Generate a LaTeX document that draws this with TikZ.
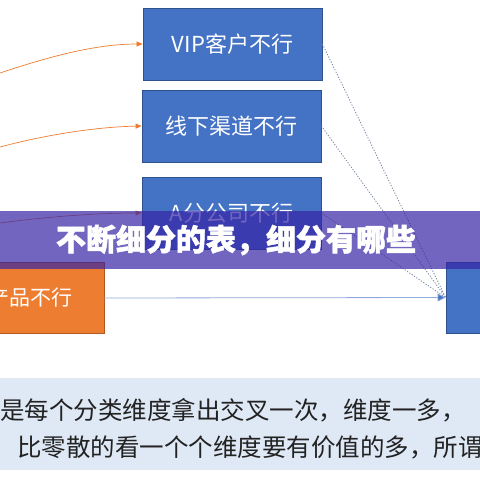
\documentclass[tikz,border=0pt]{standalone}
\usepackage{fontspec}
\newfontfamily\cjk{Noto Sans CJK SC}
\newfontfamily\cjktitle{Noto Sans CJK SC}[BoldFeatures={FakeBold=1.6}]
\usetikzlibrary{arrows.meta}
\definecolor{boxblue}{HTML}{4472C4}
\definecolor{boxedge}{HTML}{2F528F}
\definecolor{orangefill}{HTML}{ED7D31}
\definecolor{orangeedge}{HTML}{AE5A21}
\definecolor{linkblue}{HTML}{8FAADC}
\definecolor{dotgray}{HTML}{7585A0}
\definecolor{bannerc}{RGB}{54,36,165}
\definecolor{panel}{HTML}{DFE9F5}
\definecolor{bodytext}{HTML}{222222}
\tikzset{
  bluebox/.style={draw=boxedge, fill=boxblue, line width=0.8pt, text=white,
    font=\cjk\fontsize{22}{26}\selectfont, inner sep=0pt},
  orangebox/.style={draw=orangeedge, fill=orangefill, line width=0.8pt, text=white,
    font=\cjk\fontsize{21}{25}\selectfont, inner sep=0pt},
  feed/.style={draw=orangefill, line width=0.7pt, -{Triangle[length=6pt,width=5pt]}},
  link/.style={draw=linkblue, line width=0.8pt},
  dots/.style={draw=dotgray, line width=0.8pt, dash pattern=on 1.2pt off 1.6pt},
  bodyline/.style={anchor=west, inner sep=0pt, text=bodytext,
    font=\cjk\fontsize{24.5}{28}\selectfont}
}
\begin{document}
\begin{tikzpicture}[x=1pt,y=-1pt]
\useasboundingbox (0,0) rectangle (480,480);
\begin{scope}
\clip (0,0) rectangle (480,480);
\fill[white] (0,0) rectangle (480,480);
% boxes
\node[bluebox, minimum width=179pt, minimum height=72pt] (vip) at (232.5,44) {VIP客户不行};
\node[bluebox, minimum width=179pt, minimum height=72pt] (offline) at (231.5,126) {线下渠道不行};
\node[bluebox, minimum width=179pt, minimum height=72pt] (branch) at (231.5,213) {A分公司不行};
\node[orangebox, minimum width=147pt, minimum height=71pt] (prod) at (30.5,298) {产品不行};
\node[bluebox, minimum width=100pt, minimum height=71pt] (res) at (496,297.5) {};
% feed curves from off-picture source
\coordinate (s1) at (0,73);
\coordinate (s2) at (0,147);
\coordinate (s3) at (0,223);
\draw[feed] (s1) .. controls (48,57) and (95,44) .. (vip.west);
\draw[feed] (s2) .. controls (45,135) and (95,127) .. (offline.west);
\draw[feed] (s3) .. controls (45,217) and (95,213) .. (branch.west);
% links into result box
\draw[dots] (vip.east) -- (res.west);
\draw[dots] (offline.east) -- (res.west);
\draw[dots] (branch.east) -- (res.west);
\draw[link, -{Triangle[length=8pt,width=8pt,fill=boxblue]}] (prod.east) -- (res.west);
% banner
\fill[bannerc, opacity=0.7] (0,211) rectangle (480,269);
\node[text=white, font=\cjktitle\bfseries\fontsize{30}{33}\selectfont, inner sep=0pt] (title) at (236,240) {不断细分的表，细分有哪些};
% bottom panel
\fill[panel] (0,378) rectangle (480,470);
\node[bodyline] (l1) at (0,410) {是每个分类维度拿出交叉一次，维度一多，};
\node[bodyline] (l2) at (17,447) {比零散的看一个个维度要有价值的多，所谓};
\end{scope}
\end{tikzpicture}
\end{document}
